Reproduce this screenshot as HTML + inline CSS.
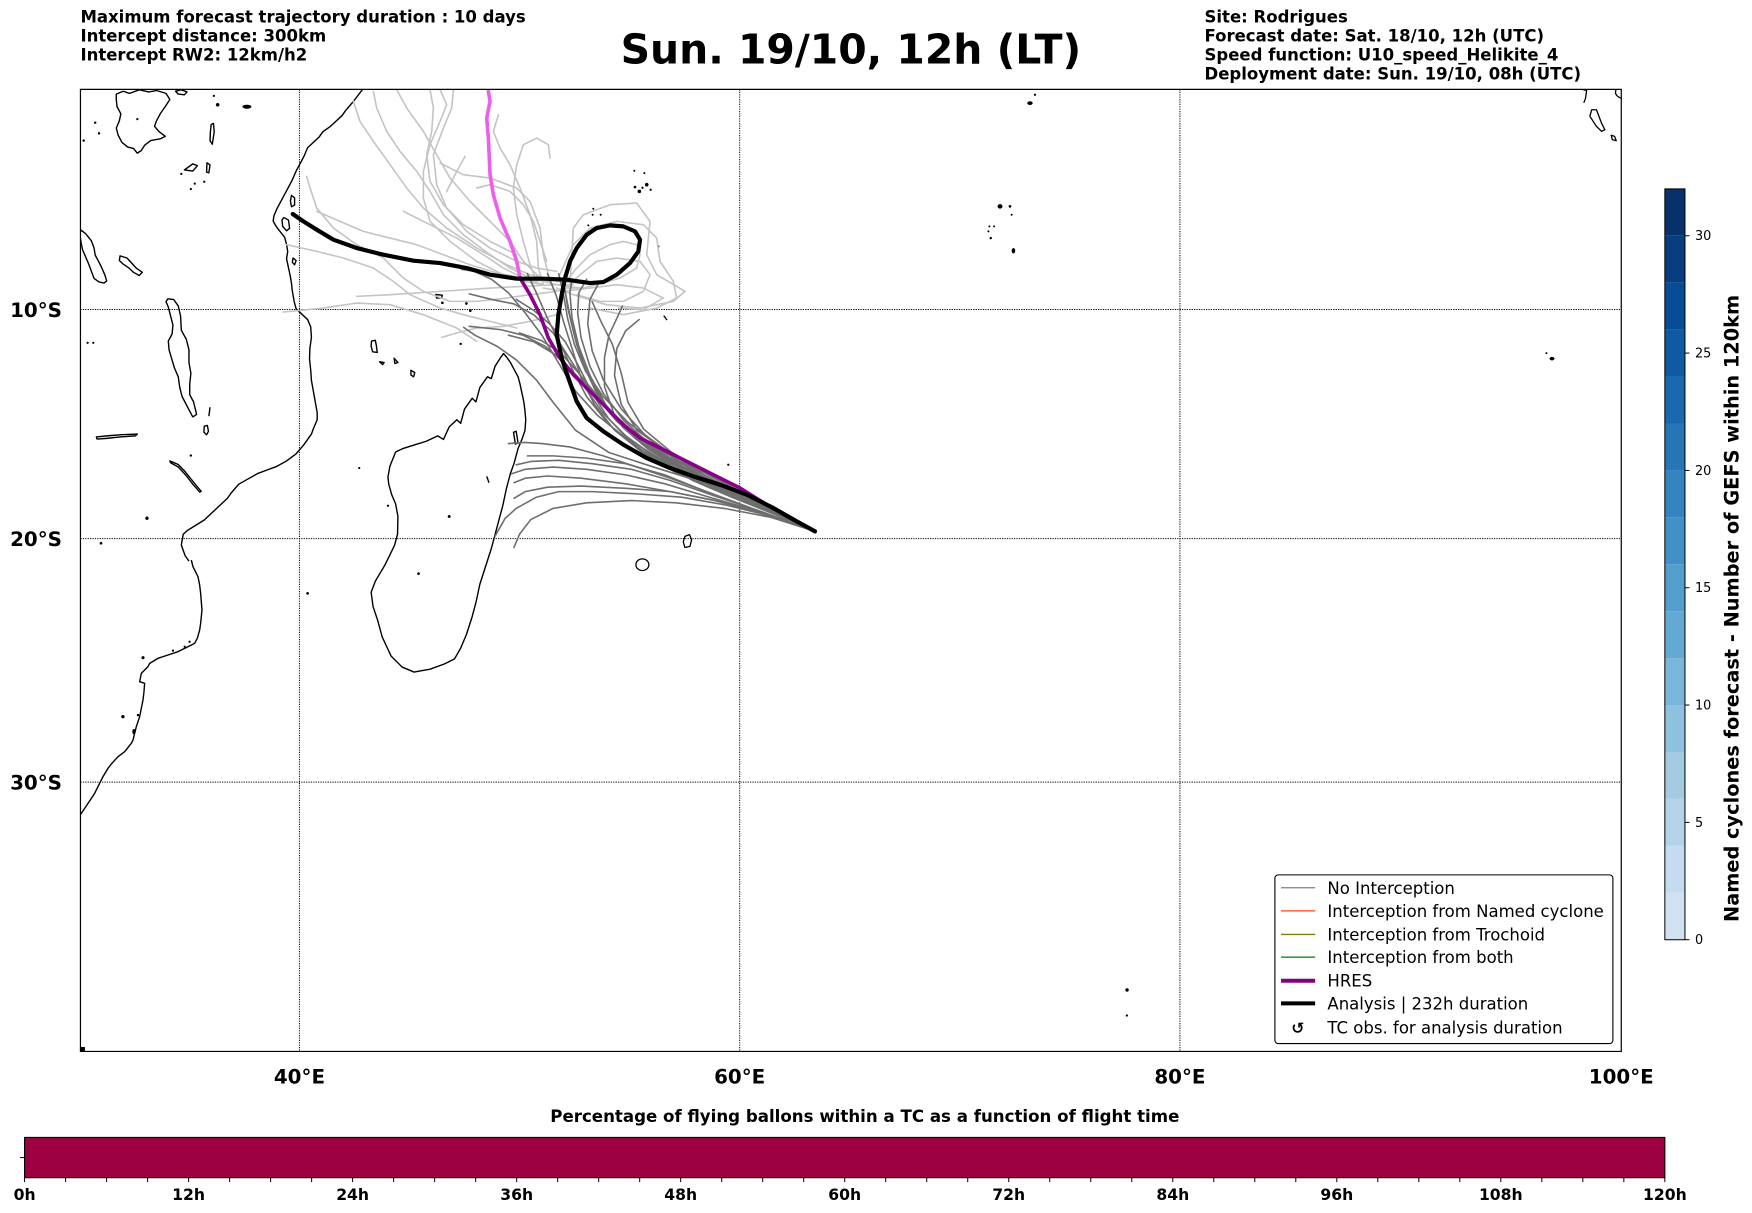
<!DOCTYPE html>
<html><head><meta charset="utf-8">
<style>
html,body{margin:0;padding:0;background:#fff}
svg{display:block}
path,polyline,line,rect,ellipse,circle{vector-effect:non-scaling-stroke}
</style></head>
<body>
<svg xmlns="http://www.w3.org/2000/svg" width="1752" height="1213" viewBox="0 0 1568 1085.6" font-family="'DejaVu Sans','Liberation Sans',sans-serif">
<defs><clipPath id="ax"><rect x="72" y="80" width="1379" height="861"/></clipPath></defs>
<rect x="0" y="0" width="1568" height="1085.6" fill="#fff"/>

<!-- Header -->
<g font-weight="bold" font-size="14.8" fill="#000">
<text x="72" y="20">Maximum forecast trajectory duration : 10 days</text>
<text x="72" y="37">Intercept distance: 300km</text>
<text x="72" y="54">Intercept RW2: 12km/h2</text>
<text x="1078" y="20">Site: Rodrigues</text>
<text x="1078" y="37">Forecast date: Sat. 18/10, 12h (UTC)</text>
<text x="1078" y="54">Speed function: U10_speed_Helikite_4</text>
<text x="1078" y="71">Deployment date: Sun. 19/10, 08h (UTC)</text>
</g>
<text x="761.5" y="57" text-anchor="middle" font-size="36.6" font-weight="bold">Sun. 19/10, 12h (LT)</text>

<!-- Map -->
<g clip-path="url(#ax)">
<g stroke="#000" stroke-width="1" stroke-dasharray="1.2 1.2" fill="none">
<line x1="268" y1="80" x2="268" y2="941"/>
<line x1="662" y1="80" x2="662" y2="941"/>
<line x1="1056" y1="80" x2="1056" y2="941"/>
<line x1="72" y1="277" x2="1451" y2="277"/>
<line x1="72" y1="482" x2="1451" y2="482"/>
<line x1="72" y1="700" x2="1451" y2="700"/>
</g>

<g transform="translate(69.8,77.8) scale(0.3425,0.3203)" fill="none" stroke="#000" stroke-width="1.4" stroke-linejoin="round">
<path d="M745,5 L720,40 L700,65 L690,80 L660,110 L640,125 L630,140 L600,170 L590,195 L580,215 L570,235 L560,260 L540,300 L530,320 L520,340 L512,360 L510,375 L518,390 L525,400 L540,420 L545,440 L548,460 L545,480 L550,505 L555,530 L558,550 L560,570 L565,600 L570,620 L585,635 L600,650 L608,670 L610,700 L606,730 L605,760 L608,790 L610,820 L615,850 L620,880 L625,910 L625,930 L615,955 L610,970 L590,1000 L570,1025 L545,1045 L520,1060 L495,1070 L470,1080 L445,1095 L420,1110 L400,1135 L390,1150 L370,1170 L360,1180 L340,1200 L330,1210 L300,1230 L285,1240 L275,1250 L270,1280 L280,1310 L290,1325"/>
<path d="M1112,745 L1120,755 L1130,770 L1140,790 L1150,810 L1155,830 L1160,855 L1165,880 L1168,905 L1170,930 L1168,960 L1160,985 L1150,1010 L1140,1050 L1130,1080 L1120,1120 L1110,1170 L1100,1210 L1090,1250 L1080,1290 L1065,1340 L1050,1390 L1040,1440 L1030,1480 L1015,1530 L1000,1568 L984,1598 L958,1612 L920,1627 L878,1635 L847,1621 L818,1590 L795,1537 L783,1490 L771,1452 L766,1412 L777,1381 L803,1334 L827,1281 L835,1250 L836,1200 L830,1165 L820,1140 L812,1110 L810,1090 L815,1060 L830,1020 L850,1010 L880,1000 L910,990 L940,975 L955,985 L970,950 L990,930 L1000,940 L1010,900 L1030,870 L1040,880 L1050,840 L1070,810 L1080,815 L1090,780 L1105,755 Z"/>
<path d="M1138,965 L1145,962 L1150,995 L1143,998 Z"/>
<path d="M8,400 L20,410 L35,430 L42,450 L45,470 L55,490 L62,505 L70,525 L75,542 L68,548 L55,545 L42,535 L35,515 L28,495 L20,475 L12,455 L8,435 L5,410 Z"/>
<path d="M110,472 L128,478 L140,492 L152,506 L168,518 L160,527 L145,518 L132,505 L118,495 L108,485 Z"/>
<path d="M235,592 L250,594 L262,612 L268,640 L270,680 L283,705 L290,735 L290,770 L295,800 L292,830 L292,860 L302,880 L310,915 L300,922 L288,898 L272,865 L266,840 L262,810 L252,785 L245,760 L238,735 L236,710 L246,690 L248,665 L242,640 L236,615 L230,600 Z"/>
<path d="M330,948 L338,946 L341,962 L336,972 L329,965 Z"/>
<path d="M345,895 L342,920"/>
<path d="M48,978 L75,975 L110,972 L155,970 L150,975 L110,978 L75,982 L50,984 Z"/>
<path d="M240,1045 L262,1055 L280,1075 L295,1095 L310,1115 L322,1130 L318,1132 L300,1110 L282,1085 L262,1062 L242,1050 Z"/>
<path d="M100,20 L118,12 L135,18 L160,8 L185,14 L205,10 L230,18 L240,35 L228,55 L215,75 L205,95 L200,110 L212,125 L228,138 L215,145 L190,150 L175,162 L165,178 L155,185 L145,172 L130,168 L115,155 L105,135 L100,115 L108,95 L112,75 L102,55 L100,35 Z"/>
<path d="M255,12 L270,8 L285,14 L278,22 L262,20 Z"/>
<path d="M348,105 L354,102 L356,125 L351,160 L345,150 L346,125 Z"/>
<path d="M278,232 L300,215 L312,220 L300,235 Z"/>
<path d="M337,212 L345,218 L342,240 L336,238 Z"/>
<path d="M558,303 L566,310 L566,330 L558,335 L555,318 Z"/>
<path d="M538,365 L550,372 L553,395 L545,402 L535,390 L533,372 Z"/>
<path d="M562,478 L570,485 L566,497 L560,490 Z"/>
<path d="M767,710 L777,708 L780,725 L782,742 L770,740 L766,725 Z"/>
<path d="M788,768 L800,770 L796,776 Z"/>
<path d="M826,758 L836,770 L828,773 Z"/>
<path d="M870,792 L880,798 L877,810 L870,805 Z"/>
<path d="M935,580 L952,582 L950,590 L937,590 Z"/>
<path d="M1068,1088 L1074,1106"/>
</g>

<g transform="translate(69.8,501.2) scale(0.2983)" fill="none" stroke="#000" stroke-width="1.4" stroke-linejoin="round">
<path d="M340,0 L345,20 L355,40 L360,50 L365,75 L368,100 L372,150 L368,190 L365,210 L358,235 L350,250 L320,265 L300,275 L270,285 L240,295 L215,310 L210,320 L190,340 L185,365 L200,370 L198,395 L195,420 L185,470 L175,500 L170,520 L165,540 L160,550 L140,575 L120,590 L100,612 L90,625 L75,650 L70,660 L55,690 L50,700 L30,730 L10,760 L-5,780"/>
</g>

<g fill="#000">
<circle cx="395.9" cy="271" r="1.2"/><circle cx="417.4" cy="271.6" r="1.2"/><circle cx="420.9" cy="278" r="1.2"/>
<circle cx="412.3" cy="307.8" r="1.1"/><circle cx="402" cy="462.2" r="1.3"/><circle cx="374.6" cy="513.4" r="1.2"/>
<circle cx="321.5" cy="418.9" r="1"/><circle cx="275.3" cy="531" r="1.2"/><circle cx="131.5" cy="463.8" r="1.5"/>
<circle cx="90.4" cy="486.2" r="1.2"/><circle cx="78.4" cy="306.8" r="1"/><circle cx="83.5" cy="306.8" r="1"/>
<circle cx="170.8" cy="407.7" r="1.1"/><circle cx="347.2" cy="452.6" r="1"/>
<circle cx="162.3" cy="155.6" r="1"/><circle cx="170.8" cy="169.1" r="1"/><circle cx="174.3" cy="164.3" r="1"/><circle cx="182.8" cy="162.7" r="1"/>
<circle cx="85.2" cy="109.8" r="1.1"/><circle cx="88.6" cy="119.4" r="1.1"/><circle cx="74.9" cy="125.8" r="1.1"/><circle cx="122.9" cy="106.6" r="1"/>
<circle cx="194.8" cy="93.8" r="1.6"/><circle cx="191.4" cy="85.8" r="1"/>
<ellipse cx="221" cy="95.5" rx="4" ry="1.8"/>
<circle cx="128" cy="588.6" r="1.4"/><circle cx="110" cy="641.4" r="1.5"/><circle cx="123.5" cy="640" r="1.1"/>
<ellipse cx="119.9" cy="654.8" rx="1.5" ry="2.5"/><circle cx="154.8" cy="582.3" r="1"/><circle cx="165.3" cy="578.8" r="1"/><circle cx="169.7" cy="574.3" r="1"/>
<circle cx="567.7" cy="152.8" r="0.9"/><circle cx="576.7" cy="154.9" r="0.9"/><circle cx="568.3" cy="167.4" r="1.2"/>
<circle cx="572.2" cy="171.3" r="1.6"/><circle cx="578.8" cy="165.3" r="1.6"/><circle cx="582.3" cy="169.8" r="1"/><circle cx="575" cy="168" r="1"/>
<circle cx="531" cy="186.8" r="0.9"/><circle cx="530.4" cy="192.2" r="0.9"/><circle cx="537.6" cy="192.2" r="0.9"/><circle cx="526.5" cy="201.7" r="0.9"/>
<circle cx="589.2" cy="220.5" r="1"/><circle cx="651.8" cy="415.9" r="1"/>
<circle cx="926.3" cy="84.8" r="1"/><ellipse cx="921.8" cy="92.3" rx="2.4" ry="1.7"/>
<ellipse cx="895" cy="184.7" rx="2.2" ry="2"/><circle cx="903.9" cy="184.7" r="1.2"/><circle cx="905.4" cy="192.2" r="0.9"/>
<circle cx="885.5" cy="202.6" r="0.9"/><circle cx="889.7" cy="202.6" r="0.9"/><circle cx="884.6" cy="207.1" r="0.9"/><circle cx="886.7" cy="213.1" r="1.1"/>
<ellipse cx="907" cy="224.4" rx="1.6" ry="2.4"/>
<circle cx="1384" cy="316" r="0.9"/><ellipse cx="1389" cy="321" rx="2.2" ry="1.6"/>
<circle cx="1008.7" cy="886" r="1.5"/><circle cx="1008.5" cy="908.8" r="1"/>
<rect x="72" y="937" width="4" height="4"/>
</g>
<g fill="none" stroke="#000" stroke-width="1.3" stroke-linejoin="round">
<path d="M594,282.5 L597,286.5"/>
<path d="M613,480 L617,478.5 L619,483 L617.5,489 L613,490 L611.5,485 Z"/>
<ellipse cx="574.9" cy="505.4" rx="5.8" ry="5.2"/>
<path d="M1424.5,98.2 L1428.8,98.2 L1433.3,110.1 L1436.3,116.1 L1433.3,117.5 L1428.8,113.1 L1422.9,104.1 Z"/>
<path d="M1442,121 L1445,122 L1446.5,126 L1443,125 Z"/>
<path d="M1416,80 L1420,81 L1419,88 L1417.5,92"/>
<path d="M1447,79 C1444.5,83 1446,86 1451,88"/>
</g>

<!-- Light grey trajectories -->
<g transform="translate(259.6,78.8) scale(0.2983)" fill="none" stroke-linejoin="round" stroke-linecap="round">
<g stroke="#c4c4c4" stroke-width="1.6">
<polyline points="190,40 210,100 250,160 300,230 350,300 400,360 470,420 560,480 650,530 720,560 800,580 880,585"/>
<polyline points="250,10 260,60 290,130 330,190 380,250 420,310 460,380 520,440 600,500 660,540 720,570 800,590 870,600"/>
<polyline points="320,5 350,60 400,130 440,200 480,270 540,340 600,400 660,460 700,520 740,560 790,590"/>
<polyline points="450,5 470,50 450,100 420,170 400,250 400,330 420,400 480,460 560,520 640,560 700,580 760,590"/>
<polyline points="490,5 485,60 460,120 430,200 440,290 470,360 530,430 600,480 680,520 740,540 800,550"/>
<polyline points="780,210 775,170 740,150 700,170 680,230 670,300 680,380 700,460 720,530 740,580"/>
<polyline points="625,80 610,130 630,180 660,230 690,300 720,380 740,460 745,540 760,590"/>
<polyline points="525,205 500,250 470,310"/>
<polyline points="450,225 520,260 600,270 680,300 720,340 750,420 760,500 780,580"/>
<polyline points="340,370 420,410 500,450 580,500 640,540 700,570 760,590"/>
<polyline points="50,265 60,300 80,360 130,420 200,470 280,510 340,570 400,610 480,640 560,640 650,630 720,620 800,610"/>
<polyline points="-10,470 80,490 160,510 250,540 310,580 360,620 450,660 520,680 600,700 680,720"/>
<polyline points="200,625 300,620 450,610 600,600 700,595 800,590 850,590"/>
<polyline points="-20,672 100,660 200,645 300,650 400,680 500,720 560,760"/>
<polyline points="80,370 150,400 220,430 300,450 380,470 460,500 540,530 620,555 700,570"/>
<polyline points="560,300 600,290 660,310 700,350 730,400 750,460 770,520"/>
<polyline points="455,748 500,735 560,720 640,715 720,700 800,680"/>
<polyline points="420,5 430,60 425,130 410,200 420,280 460,350 520,410 600,460 680,500"/>
<polyline points="840,590 845,500 850,420 880,380 960,350 1040,345 1080,400 1070,500 1100,560 1185,610 1150,640 1050,660 950,650 850,620 800,600"/>
<polyline points="820,590 860,540 900,500 960,470 1000,460 1040,470 1050,500 1040,540 990,570 940,585 880,600 830,600"/>
<polyline points="830,600 870,560 920,520 980,510 1050,520 1080,560 1060,610 1000,640 930,640 860,620"/>
<polyline points="800,580 850,470 900,420 980,400 1060,410 1100,450 1110,520 1150,580 1160,630 1100,660 1000,680 900,660"/>
<polyline points="760,600 820,610 900,600 980,590 1060,600 1120,630 1060,665 985,660"/>
</g>
</g>

<!-- Dark grey trajectories (main coords) -->
<g fill="none" stroke="#6e6e6e" stroke-width="1.6" stroke-linejoin="round" stroke-linecap="round">
<polyline points="729.4,475.5 680,452 630,430 590,410 560,392 535,372 515,350 500,325 485,300 470,280 455,262 440,250 425,243 413,241"/>
<polyline points="729.4,475.5 685,455 640,436 600,418 570,400 545,380 525,355 512,330 500,305 490,285 480,262 472,245"/>
<polyline points="729.4,475.5 690,458 645,440 605,423 575,405 550,385 532,362 520,338 512,312 505,290 498,265 490,245"/>
<polyline points="729.4,475.5 680,450 635,428 595,405 565,385 540,362 522,340 508,318 495,298 478,282 460,272 440,268 420,263"/>
<polyline points="729.4,475.5 675,448 630,425 592,400 562,378 540,355 524,332 514,308 508,285 504,262 500,245"/>
<polyline points="729.4,475.5 688,456 648,437 612,418 582,398 558,376 540,352 528,328 520,302 517,280 518,262 525,250"/>
<polyline points="729.4,475.5 692,459 652,442 615,425 585,408 560,390 540,370 522,345 505,325 488,310 468,300 448,295 420,292"/>
<polyline points="729.4,475.5 684,454 642,434 605,412 578,390 556,366 540,340 530,314 526,290 528,268 535,255"/>
<polyline points="729.4,475.5 695,461 655,445 620,430 590,414 565,396 545,375 530,352 518,328 506,306 492,290 478,278 462,268"/>
<polyline points="729.4,475.5 678,449 632,428 596,410 568,392 550,372 541,346 541,320 545,300 552,285 557,274"/>
<polyline points="729.4,475.5 686,455 644,436 608,417 580,398 556,378 536,356 518,334 502,316 485,305 465,298"/>
<polyline points="729.4,475.5 690,457 650,439 612,421 584,403 560,384 542,362 528,336 518,310 512,285 510,262 512,250"/>
<polyline points="729.4,475.5 682,452 638,432 600,413 572,395 550,374 533,350 522,326 514,300 508,275 505,255"/>
<polyline points="729.4,475.5 680,452 630,432 585,418 545,405 515,385 495,360 480,340 462,322 445,310 425,300 415,293"/>
<polyline points="729.4,475.5 687,456 646,438 609,420 580,402 558,383 540,360 526,335 516,308 510,282 506,262"/>
<polyline points="729.4,475.5 683,453 640,433 603,415 575,397 552,377 534,356 516,336 498,318 478,306 455,300"/>
<polyline points="729.4,475.5 676,447 628,422 594,402 570,385 556,362 550,336 552,312 560,296 572,286"/>
<polyline points="729.4,475.5 679,448 634,425 600,404 576,384 562,360 556,334 548,308 538,288 530,270"/>
<polyline points="729.4,475.5 690,462 650,452 610,445 570,442 530,440 500,440 480,445 462,455 452,464 443,480"/>
<polyline points="729.4,475.5 685,460 640,448 600,440 560,437 520,435 490,436 470,440 460,446"/>
<polyline points="729.4,475.5 688,461 645,449 600,440 560,433 520,428 490,426 470,428 460,432"/>
<polyline points="729.4,475.5 680,458 635,445 595,433 560,425 525,420 495,418 470,420 458,424"/>
<polyline points="729.4,475.5 682,458 640,444 600,430 565,420 530,415 500,412 475,413 462,416"/>
<polyline points="729.4,475.5 678,457 632,440 595,425 560,415 525,410 495,408 472,408"/>
<polyline points="729.4,475.5 684,459 638,442 600,428 570,418 540,408 510,400 485,397 470,396 455,397"/>
<polyline points="729.4,475.5 690,463 648,455 605,450 565,448 525,450 495,455 475,465 465,478 460,490"/>
</g>

<!-- HRES and analysis -->
<g transform="translate(259.6,78.8) scale(0.2983)" fill="none" stroke-linejoin="round" stroke-linecap="round">
<polyline stroke="#ee5eee" stroke-width="3.6" points="595,10 600,40 590,90 595,150 600,260 610,320 630,390 660,460 680,520 690,570"/>
<polyline stroke="#8b008b" stroke-width="3.6" points="690,570 720,620 750,680 775,750 810,810 850,860 900,910 950,960 1000,1010 1050,1050 1110,1080 1190,1120 1270,1160 1350,1200 1430,1250 1500,1290 1575,1330"/>
<polyline stroke="#000" stroke-width="4.2" points="8,378 40,400 80,425 130,455 200,480 280,500 370,518 450,525 530,540 600,560 680,572 760,572 830,575 900,585 940,582 980,560 1020,525 1045,490 1050,455 1035,430 1000,415 960,412 920,420 890,440 860,480 840,520 825,570 815,620 805,680 800,740 815,810 835,870 860,940 890,990 940,1030 1000,1070 1070,1110 1140,1140 1210,1165 1290,1190 1370,1220 1450,1260 1520,1300 1575,1330"/>
</g>
</g>
<rect x="72" y="80" width="1379" height="861" fill="none" stroke="#000" stroke-width="1.2"/>

<g font-weight="bold" font-size="17.8" fill="#000">
<text x="55.5" y="283.5" text-anchor="end">10°S</text>
<text x="55.5" y="488.5" text-anchor="end">20°S</text>
<text x="55.5" y="706.5" text-anchor="end">30°S</text>
<text x="268" y="969.5" text-anchor="middle">40°E</text>
<text x="662" y="969.5" text-anchor="middle">60°E</text>
<text x="1056" y="969.5" text-anchor="middle">80°E</text>
<text x="1451" y="969.5" text-anchor="middle">100°E</text>
</g>

<!-- Legend -->
<rect x="1141" y="783" width="302.5" height="151" rx="3" fill="#fff" stroke="#000" stroke-width="1.1"/>
<g stroke-linecap="butt">
<line x1="1146.5" y1="794.5" x2="1177" y2="794.5" stroke="#808080" stroke-width="1.3"/>
<line x1="1146.5" y1="815.2" x2="1177" y2="815.2" stroke="#ff4500" stroke-width="1.3"/>
<line x1="1146.5" y1="836.3" x2="1177" y2="836.3" stroke="#808000" stroke-width="1.3"/>
<line x1="1146.5" y1="856.6" x2="1177" y2="856.6" stroke="#008000" stroke-width="1.3"/>
<line x1="1146.5" y1="877.8" x2="1177" y2="877.8" stroke="#800080" stroke-width="4"/>
<line x1="1146.5" y1="898" x2="1177" y2="898" stroke="#000" stroke-width="4"/>
</g>
<g font-size="14.8" fill="#000">
<text x="1188" y="800">No Interception</text>
<text x="1188" y="820.5">Interception from Named cyclone</text>
<text x="1188" y="841.6">Interception from Trochoid</text>
<text x="1188" y="861.9">Interception from both</text>
<text x="1188" y="883.1">HRES</text>
<text x="1188" y="903.3">Analysis | 232h duration</text>
<text x="1188" y="925.1">TC obs. for analysis duration</text>
<text x="1161.5" y="925" text-anchor="middle" font-weight="bold" font-size="14">↺</text>
</g>

<!-- Right colorbar -->
<g stroke="none">
<rect x="1490" y="799" width="18" height="42" fill="#d0e1f2"/>
<rect x="1490" y="757" width="18" height="42" fill="#c5dbef"/>
<rect x="1490" y="715" width="18" height="42" fill="#b4d3e9"/>
<rect x="1490" y="673" width="18" height="42" fill="#a3cce3"/>
<rect x="1490" y="631" width="18" height="42" fill="#8ec1de"/>
<rect x="1490" y="589" width="18" height="42" fill="#79b6d9"/>
<rect x="1490" y="547" width="18" height="42" fill="#64a9d3"/>
<rect x="1490" y="505" width="18" height="42" fill="#539ecd"/>
<rect x="1490" y="463" width="18" height="42" fill="#4291c6"/>
<rect x="1490" y="421" width="18" height="42" fill="#3484bf"/>
<rect x="1490" y="379" width="18" height="42" fill="#2575b7"/>
<rect x="1490" y="337" width="18" height="42" fill="#1a68ae"/>
<rect x="1490" y="295" width="18" height="42" fill="#0f5aa3"/>
<rect x="1490" y="253" width="18" height="42" fill="#084c95"/>
<rect x="1490" y="211" width="18" height="42" fill="#083e80"/>
<rect x="1490" y="169" width="18" height="42" fill="#08306b"/>
</g>
<rect x="1490" y="169" width="18" height="672" fill="none" stroke="#000" stroke-width="1"/>
<g stroke="#000" stroke-width="1">
<line x1="1508" y1="841" x2="1512" y2="841"/>
<line x1="1508" y1="736" x2="1512" y2="736"/>
<line x1="1508" y1="631" x2="1512" y2="631"/>
<line x1="1508" y1="526" x2="1512" y2="526"/>
<line x1="1508" y1="421" x2="1512" y2="421"/>
<line x1="1508" y1="316" x2="1512" y2="316"/>
<line x1="1508" y1="211" x2="1512" y2="211"/>
</g>
<g font-size="11.5" fill="#000">
<text x="1517" y="845">0</text>
<text x="1517" y="740">5</text>
<text x="1517" y="635">10</text>
<text x="1517" y="530">15</text>
<text x="1517" y="425">20</text>
<text x="1517" y="320">25</text>
<text x="1517" y="215">30</text>
</g>
<text transform="translate(1556,544.5) rotate(-90)" text-anchor="middle" font-size="17.3" font-weight="bold" fill="#000">Named cyclones forecast - Number of GEFS within 120km</text>

<!-- Bottom bar -->
<text x="774" y="1004" text-anchor="middle" font-size="14.9" font-weight="bold" fill="#000">Percentage of flying ballons within a TC as a function of flight time</text>
<rect x="22" y="1018" width="1468" height="36" fill="#9e0142" stroke="#000" stroke-width="1.1"/>
<line x1="18" y1="1036" x2="22" y2="1036" stroke="#000" stroke-width="1"/>
<g stroke="#000" stroke-width="1">
<line x1="22" y1="1054" x2="22" y2="1058"/><line x1="58.7" y1="1054" x2="58.7" y2="1058"/><line x1="95.4" y1="1054" x2="95.4" y2="1058"/><line x1="132.1" y1="1054" x2="132.1" y2="1058"/>
<line x1="168.8" y1="1054" x2="168.8" y2="1058"/><line x1="205.5" y1="1054" x2="205.5" y2="1058"/><line x1="242.2" y1="1054" x2="242.2" y2="1058"/><line x1="278.9" y1="1054" x2="278.9" y2="1058"/>
<line x1="315.6" y1="1054" x2="315.6" y2="1058"/><line x1="352.3" y1="1054" x2="352.3" y2="1058"/><line x1="389" y1="1054" x2="389" y2="1058"/><line x1="425.7" y1="1054" x2="425.7" y2="1058"/>
<line x1="462.4" y1="1054" x2="462.4" y2="1058"/><line x1="499.1" y1="1054" x2="499.1" y2="1058"/><line x1="535.8" y1="1054" x2="535.8" y2="1058"/><line x1="572.5" y1="1054" x2="572.5" y2="1058"/>
<line x1="609.2" y1="1054" x2="609.2" y2="1058"/><line x1="645.9" y1="1054" x2="645.9" y2="1058"/><line x1="682.6" y1="1054" x2="682.6" y2="1058"/><line x1="719.3" y1="1054" x2="719.3" y2="1058"/>
<line x1="756" y1="1054" x2="756" y2="1058"/><line x1="792.7" y1="1054" x2="792.7" y2="1058"/><line x1="829.4" y1="1054" x2="829.4" y2="1058"/><line x1="866.1" y1="1054" x2="866.1" y2="1058"/>
<line x1="902.8" y1="1054" x2="902.8" y2="1058"/><line x1="939.5" y1="1054" x2="939.5" y2="1058"/><line x1="976.2" y1="1054" x2="976.2" y2="1058"/><line x1="1012.9" y1="1054" x2="1012.9" y2="1058"/>
<line x1="1049.6" y1="1054" x2="1049.6" y2="1058"/><line x1="1086.3" y1="1054" x2="1086.3" y2="1058"/><line x1="1123" y1="1054" x2="1123" y2="1058"/><line x1="1159.7" y1="1054" x2="1159.7" y2="1058"/>
<line x1="1196.4" y1="1054" x2="1196.4" y2="1058"/><line x1="1233.1" y1="1054" x2="1233.1" y2="1058"/><line x1="1269.8" y1="1054" x2="1269.8" y2="1058"/><line x1="1306.5" y1="1054" x2="1306.5" y2="1058"/>
<line x1="1343.2" y1="1054" x2="1343.2" y2="1058"/><line x1="1379.9" y1="1054" x2="1379.9" y2="1058"/><line x1="1416.6" y1="1054" x2="1416.6" y2="1058"/><line x1="1453.3" y1="1054" x2="1453.3" y2="1058"/>
<line x1="1490" y1="1054" x2="1490" y2="1058"/>
</g>
<g font-size="14" font-weight="bold" fill="#000" text-anchor="middle">
<text x="22" y="1074">0h</text>
<text x="168.8" y="1074">12h</text>
<text x="315.6" y="1074">24h</text>
<text x="462.4" y="1074">36h</text>
<text x="609.2" y="1074">48h</text>
<text x="756" y="1074">60h</text>
<text x="902.8" y="1074">72h</text>
<text x="1049.6" y="1074">84h</text>
<text x="1196.4" y="1074">96h</text>
<text x="1343.2" y="1074">108h</text>
<text x="1490" y="1074">120h</text>
</g>
</svg>
</body></html>
